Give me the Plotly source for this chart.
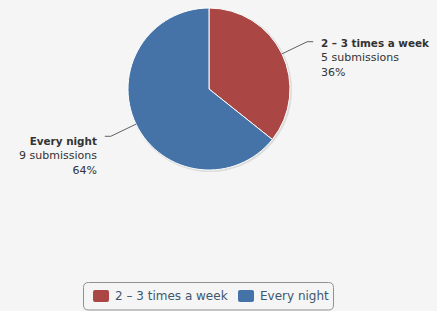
import math
import plotly.graph_objects as go

# ---- data ----
labels = ["2 – 3 times a week", "Every night"]
values = [5, 9]
colors = ["#AA4643", "#4572A7"]

W, H = 437, 311
CX, CY, R = 209, 89, 81          # pie centre / radius in pixels
FONT = "DejaVu Sans"

def px(x):
    return x / W

def py(y):
    return 1 - y / H

fig = go.Figure()
fig.add_trace(go.Pie(
    labels=labels, values=values, sort=False, direction="clockwise", rotation=0,
    marker=dict(colors=colors, line=dict(color="#FFFFFF", width=1)),
    textinfo="none", hoverinfo="label+value+percent", showlegend=False,
    domain=dict(x=[px(CX - R), px(CX + R)], y=[py(CY + R), py(CY - R)]),
))

shapes = []
annotations = []

# subtle shadow behind pie
shapes.append(dict(type="circle", xref="paper", yref="paper", layer="below",
                   x0=px(CX - R), x1=px(CX + R + 2), y0=py(CY + R + 2), y1=py(CY - R),
                   fillcolor="rgba(0,0,0,0.10)", line=dict(width=0)))

total = sum(values)
cum = 0
for lab, val in zip(labels, values):
    mid = (cum + val / 2) / total * 2 * math.pi
    cum += val
    ux, uy = math.sin(mid), -math.cos(mid)
    x1, y1 = CX + R * ux, CY + R * uy
    x2, y2 = CX + (R + 28) * ux, CY + (R + 28) * uy
    side = 1 if ux >= 0 else -1
    x3 = x2 + 6 * side
    shapes.append(dict(type="path", xref="paper", yref="paper",
                       path=f"M{px(x1)},{py(y1)} L{px(x2)},{py(y2)} L{px(x3)},{py(y2)}",
                       line=dict(color="#606060", width=1)))
    pct = round(val / total * 100)
    annotations.append(dict(
        xref="paper", yref="paper", x=px(x3 + 7 * side), y=py(y2 - (6 if side > 0 else 2)),
        xanchor="left" if side > 0 else "right", yanchor="top",
        align="left" if side > 0 else "right", showarrow=False, borderpad=0,
        text=(f"<span style='font-size:10.4px'><b>{lab}</b></span><br>"
              f"{val} submissions<br>{pct}%"),
        font=dict(family=FONT, size=11, color="#333333"),
    ))

# legend (rounded box with items)
bx0, bx1, by0, by1, rr = 83.5, 333.5, 282.5, 310, 5
def rounded(x0, x1, y0, y1, r):
    return (f"M{px(x0+r)},{py(y0)} L{px(x1-r)},{py(y0)} "
            f"Q{px(x1)},{py(y0)} {px(x1)},{py(y0+r)} "
            f"L{px(x1)},{py(y1-r)} Q{px(x1)},{py(y1)} {px(x1-r)},{py(y1)} "
            f"L{px(x0+r)},{py(y1)} Q{px(x0)},{py(y1)} {px(x0)},{py(y1-r)} "
            f"L{px(x0)},{py(y0+r)} Q{px(x0)},{py(y0)} {px(x0+r)},{py(y0)} Z")

shapes.append(dict(type="path", xref="paper", yref="paper", path=rounded(bx0, bx1, by0, by1, rr),
                   line=dict(color="#909090", width=1), fillcolor="rgba(0,0,0,0)"))
item_x = [93, 238]
for lab, col, ix in zip(labels, colors, item_x):
    shapes.append(dict(type="path", xref="paper", yref="paper",
                       path=rounded(ix, ix + 16, 290, 302, 2),
                       line=dict(width=0), fillcolor=col))
    annotations.append(dict(xref="paper", yref="paper", x=px(ix + 21), y=py(296),
                            xanchor="left", yanchor="middle", showarrow=False, borderpad=0,
                            text=lab, font=dict(family=FONT, size=12, color="#3E576F")))

fig.update_layout(
    width=W, height=H, margin=dict(l=0, r=0, t=0, b=0),
    paper_bgcolor="#F5F5F5", plot_bgcolor="#F5F5F5",
    shapes=shapes, annotations=annotations, showlegend=False,
    font=dict(family=FONT),
)
fig.write_html("out.html", config={"displayModeBar": False},
               post_script="document.body.style.margin='0';document.body.style.overflow='hidden';")
